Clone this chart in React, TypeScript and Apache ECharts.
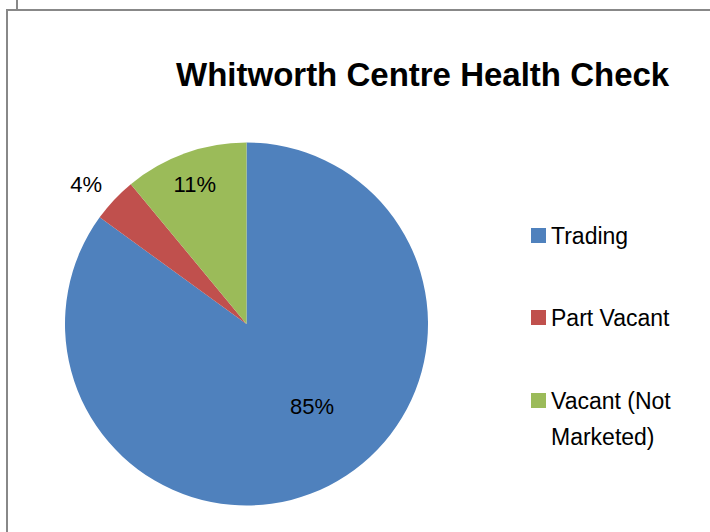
import React, { useEffect, useRef } from "react";
import * as echarts from "echarts";

const titleText = "Whitworth Centre Health Check";
const categories = ["Trading", "Part Vacant", "Vacant (Not Marketed)"];
const legendLabels = ["Trading", "Part Vacant", "Vacant (Not\nMarketed)"];
const values = [85, 4, 11];
const colors = ["#4F81BD", "#C0504D", "#9BBB59"];
// per-label nudges (Excel "best fit" placement)
const labelShift = [
  { dx: 23, dy: -1 },
  { dx: -92, dy: -75 },
  { dx: -20, dy: -51 },
];

export default function App() {
  const ref = useRef<HTMLDivElement>(null);
  useEffect(() => {
    document.body.style.margin = "0";
    const chart = echarts.init(ref.current!, null, { renderer: "svg" });
    const font = "'Liberation Sans', Arial, sans-serif";
    const legendBase = {
      orient: "vertical",
      left: 531,
      padding: 0,
      itemWidth: 15,
      itemHeight: 15,
      icon: "rect",
      selectedMode: false,
      textStyle: { fontFamily: font, fontSize: 23, color: "#000", lineHeight: 24 },
    };
    chart.setOption({
      animation: false,
      backgroundColor: "#fff",
      title: {
        text: titleText,
        left: 176,
        top: 58,
        padding: 0,
        textStyle: { fontFamily: font, fontSize: 33, fontWeight: "bold", color: "#000", lineHeight: 33 },
      },
      legend: [
        { ...legendBase, top: 223.5, data: [categories[0]] },
        { ...legendBase, top: 305.5, data: [categories[1]] },
        {
          ...legendBase,
          top: 346.5,
          data: [categories[2]],
          formatter: () => "\u00a0\n" + legendLabels[2],
          textStyle: { ...legendBase.textStyle, lineHeight: 36 },
        },
      ],
      graphic: [
        { type: "line", shape: { x1: 6, y1: 10, x2: 710, y2: 10 }, style: { stroke: "#888", lineWidth: 2 } },
        { type: "line", shape: { x1: 7, y1: 9, x2: 7, y2: 532 }, style: { stroke: "#888", lineWidth: 2 } },
        { type: "line", shape: { x1: 17, y1: 0, x2: 17, y2: 10 }, style: { stroke: "#888", lineWidth: 2 } },
      ],
      series: [
        {
          type: "pie",
          center: [246.5, 324],
          radius: 181.5,
          startAngle: 90,
          clockwise: true,
          silent: true,
          data: categories.map((name, i) => ({
            name,
            value: values[i],
            itemStyle: { color: colors[i] },
          })),
          label: {
            show: true,
            position: "inside",
            formatter: "{c}%",
            fontFamily: font,
            fontSize: 22,
            color: "#000",
          },
          labelLine: { show: false },
          labelLayout: (params: any) => labelShift[params.dataIndex],
        },
      ],
    });
    return () => chart.dispose();
  }, []);
  return <div ref={ref} style={{ width: 710, height: 532 }} />;
}
